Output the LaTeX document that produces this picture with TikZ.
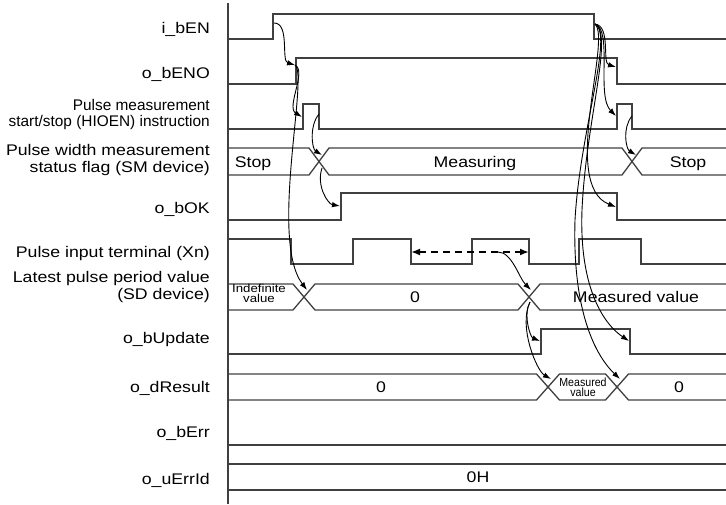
\documentclass[tikz,border=0pt]{standalone}
\usepackage{fontspec}
\setmainfont[FakeStretch=1.15]{Liberation Sans}
\newfontfamily\plainsf{Liberation Sans}
\newfontfamily\condsf[FakeStretch=0.9]{Liberation Sans}
\usetikzlibrary{arrows.meta}

\begin{document}
\begin{tikzpicture}[
			x=1pt, y=-1pt,
			sig/.style={draw=black!75, line width=1.3pt},
			arrow/.style={-{Latex[length=8pt,width=5.5pt]}, line width=0.9pt},
			lbl/.style={anchor=base east, align=right, inner sep=0pt, font=\fontsize{15.4}{17}\selectfont},
			val/.style={anchor=base, inner sep=0pt, font=\fontsize{15.4}{17}\selectfont},
			tiny/.style={anchor=base, align=center, inner sep=0pt, font=\fontsize{11.5}{10}\selectfont}
		]
		\useasboundingbox (0,0) rectangle (726,504);

		\node[lbl] (lEN) at (210,33.5) {i\_bEN};
		\node[lbl] (lENO) at (210,78) {o\_bENO};
		\node[lbl, font=\plainsf\fontsize{15.4}{16}\selectfont] (lHIO) at (210,126) {Pulse measurement\\start/stop (HIOEN) instruction};
		\node[lbl] (lSM) at (210,172) {Pulse width measurement\\status flag (SM device)};
		\node[lbl] (lOK) at (210,213) {o\_bOK};
		\node[lbl] (lXn) at (210,257) {Pulse input terminal (Xn)};
		\node[lbl] (lSD) at (210,299) {Latest pulse period value\\(SD device)};
		\node[lbl] (lUpd) at (210,343) {o\_bUpdate};
		\node[lbl] (lRes) at (210,392.5) {o\_dResult};
		\node[lbl] (lErr) at (210,437.5) {o\_bErr};
		\node[lbl] (lErrId) at (210,484) {o\_uErrId};

		\draw[sig] (228,3) -- (228,504);
		\draw[sig] (227,39) -| (273,14) -| (594,39) -- (726,39);
		\draw[sig] (227,84) -| (296,58) -| (617,84) -- (726,84);
		\draw[sig] (227,129) -| (303,104) -| (319,129) -| (617,104) -| (632,129) -- (726,129);
		\draw[sig] (227,148) -- (309,148) -- (329,175) -- (622,175) -- (642,148) -- (726,148);
		\draw[sig] (227,175) -- (309,175) -- (329,148) -- (622,148) -- (642,175) -- (726,175);
		\draw[sig] (227,220) -| (341,193) -| (617,220) -- (726,220);
		\draw[sig] (227,239) -| (291,264) -| (353,239) -| (411,264) -| (472,239) -| (529,264) -| (579,239) -| (641,264) -- (726,264);
		\draw[sig] (227,284) -- (293,284) -- (315,310) -- (518,310) -- (540,284) -- (726,284);
		\draw[sig] (227,310) -- (293,310) -- (315,284) -- (518,284) -- (540,310) -- (726,310);
		\draw[sig] (227,354) -| (541,329) -| (630,354) -- (726,354);
		\draw[sig] (227,374) -- (536.5,374) -- (559.5,400) -- (605.5,400) -- (628.5,374) -- (726,374);
		\draw[sig] (227,400) -- (536.5,400) -- (559.5,374) -- (605.5,374) -- (628.5,400) -- (726,400);
		\draw[sig] (227,445) -- (726,445);
		\draw[sig] (227,464) -- (726,464);
		\draw[sig] (227,490) -- (726,490);

		\node[val] (vStop) at (253,167) {Stop};
		\node[val] (vMeas) at (475,167) {Measuring};
		\node[val] (vStop2) at (688,167) {Stop};
		\node[tiny] (vIndef) at (259,302.5) {Indefinite\\value};
		\node[val] (vZero) at (415,302.5) {0};
		\node[val] (vMeasVal) at (636,302.5) {Measured value};
		\node[val] (vZero2) at (381,392.5) {0};
		\node[tiny, font=\condsf\fontsize{11.8}{10.5}\selectfont] (vMeasSmall) at (583,396.5) {Measured\\value};
		\node[val] (vZero3) at (679,392.5) {0};
		\node[val] (vZeroH) at (478,482.5) {0H};

		\coordinate (enRise) at (274,23);
		\coordinate (enFall) at (595,24);
		\coordinate (enoRise) at (295,65);
		\coordinate (enoFall) at (616,67);
		\coordinate (hioRise) at (302,117);
		\coordinate (hioFall) at (319,114);
		\coordinate (hioRise2) at (616,116);
		\coordinate (hioFall2) at (632,116);
		\coordinate (smOn) at (322,155);
		\coordinate (smOnB) at (322,168);
		\coordinate (smOff) at (636,155);
		\coordinate (okRise) at (340,206);
		\coordinate (okFall) at (616,207);
		\coordinate (xnA) at (411,252);
		\coordinate (xnB) at (529,252);
		\coordinate (xnMid) at (498,252);
		\coordinate (sdSet) at (307,290);
		\coordinate (sdNew) at (531,290);
		\coordinate (sdNewB) at (530,302);
		\coordinate (updRise) at (540,341);
		\coordinate (updFall) at (629,341);
		\coordinate (resSet) at (551,379);
		\coordinate (resClr) at (620,379);

		\draw[arrow] (enRise) .. controls +(16,0) and +(-14,-4) .. (enoRise);
		\draw[arrow] (enoRise) .. controls +(12,6) and +(-16,-10) .. (hioRise);
		\draw[arrow] (enoRise) .. controls +(14,10) and +(-38,-50) .. (sdSet);
		\draw[arrow] (hioFall) .. controls +(-10,12) and +(-10,-6) .. (smOn);
		\draw[arrow] (smOnB) .. controls +(-6,18) and +(-12,-2) .. (okRise);
		\draw[arrow] (enFall) .. controls +(16,2) and +(-14,-4) .. (enoFall);
		\draw[arrow] (enFall) .. controls +(18,6) and +(-20,-20) .. (hioRise2);
		\draw[arrow] (hioFall2) .. controls +(-10,12) and +(-10,-6) .. (smOff);
		\draw[arrow] (enFall) .. controls +(17,15) and +(-56,-22) .. (okFall);
		\draw[arrow] (enFall) .. controls (614,34) and (580,130) .. (575,220) .. controls (572,320) and (600,360) .. (resClr);
		\draw[arrow] (enFall) .. controls (614,34) and (586,120) .. (582,210) .. controls (579,290) and (605,325) .. (updFall);
		\draw[arrow, {Latex[length=9pt,width=7pt]}-{Latex[length=9pt,width=7pt]}, line width=2pt, dash pattern=on 7pt off 5pt] (xnA) -- (xnB);
		\draw[arrow] (xnMid) .. controls +(14,0) and +(-12,-12) .. (sdNew);
		\draw[arrow] (sdNewB) .. controls +(-7,12) and +(-10,-4) .. (updRise);
		\draw[arrow] (sdNewB) .. controls +(-12,25) and +(-14,-8) .. (resSet);
	\end{tikzpicture}
\end{document}
